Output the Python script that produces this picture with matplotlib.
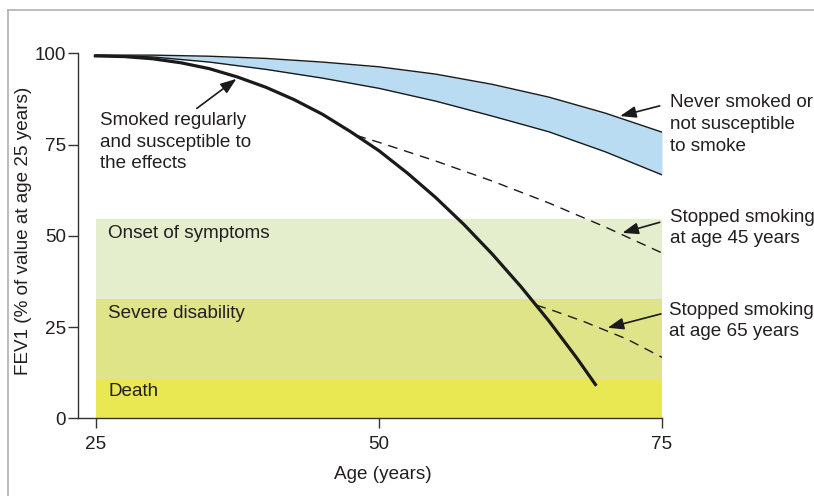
import matplotlib
matplotlib.use("Agg")
import matplotlib.pyplot as plt
from matplotlib.lines import Line2D

plt.rcParams['font.family'] = ['Liberation Sans', 'DejaVu Sans']

# ---- data ----
never_age = [25, 30, 35, 40, 45, 50, 55, 60, 65, 70, 75]
never_upper = [99.5, 99.5, 99.2, 98.6, 97.6, 96.3, 94.3, 91.5, 88.0, 83.6, 78.4]
never_lower = [99.5, 99.0, 97.6, 95.6, 93.2, 90.4, 86.9, 82.8, 78.5, 73.0, 66.7]

smoker_age = [24.8, 27.5, 30, 32.5, 35, 37.5, 40, 42.5, 45, 47.5, 50, 52.5, 55,
              57.5, 60, 62.5, 65, 67.5, 69.2]
smoker_val = [99.3, 99.1, 98.5, 97.4, 95.8, 93.5, 90.7, 87.3, 83.3, 78.5, 73.3,
              67.2, 60.5, 53.1, 45.0, 36.2, 26.7, 16.4, 8.9]

stop45_age = [48, 50, 55, 60, 65, 70, 75]
stop45_val = [77.5, 75.6, 70.5, 65.0, 59.0, 52.4, 45.3]

stop65_age = [63.9, 65.4, 68.1, 71.9, 75]
stop65_val = [31.0, 29.5, 26.5, 21.7, 16.7]

band_labels = ["Death", "Severe disability", "Onset of symptoms"]
band_lower = [0, 10.8, 32.7]
band_upper = [10.8, 32.7, 54.6]
band_colors = ["#e9e852", "#dfe489", "#e4edcc"]
band_x = [25, 75]

x_ticks = [25, 50, 75]
y_ticks = [0, 25, 50, 75, 100]

TXT = "#231f20"
FS = 13.6

W, H = 814, 496
fig = plt.figure(figsize=(W / 100, H / 100), dpi=100)
ax = fig.add_axes([77.7 / W, 1 - 418.3 / H, (662 - 77.7) / W, (418.3 - 53.3) / H])

# bands
for lo, hi, c in zip(band_lower, band_upper, band_colors):
    ax.fill_between(band_x, [lo, lo], [hi, hi], color=c, lw=0, zorder=1)

# never smoked band
ax.fill_between(never_age, never_lower, never_upper, color="#b9dcf3", lw=0, zorder=2)
ax.plot(never_age, never_upper, color="#1a1a1a", lw=1.0, zorder=3)
ax.plot(never_age, never_lower, color="#1a1a1a", lw=1.0, zorder=3)

# stopped smoking dashed lines
ax.plot(stop45_age, stop45_val, color="#1a1a1a", lw=1.0, dashes=(7, 5), zorder=3)
ax.plot(stop65_age, stop65_val, color="#1a1a1a", lw=1.0, dashes=(7, 5), zorder=3)

# smoker curve
ax.plot(smoker_age, smoker_val, color="#1a1a1a", lw=2.3, zorder=4,
        solid_capstyle="butt", solid_joinstyle="round")

ax.set_xlim(23.38, 75)
ax.set_ylim(0, 100)
ax.set_xticks(x_ticks)
ax.set_yticks(y_ticks)
for s in ["top", "right"]:
    ax.spines[s].set_visible(False)
for s in ["left", "bottom"]:
    ax.spines[s].set_color("#333333")
    ax.spines[s].set_linewidth(1.0)
ax.tick_params(axis="both", direction="out", length=7.5, width=1.0,
               color="#333333", labelsize=FS, labelcolor=TXT)
ax.tick_params(axis="y", pad=0.8)
ax.tick_params(axis="x", pad=5.5)

ax.set_xlabel("Age (years)", fontsize=FS, color=TXT)
ax.xaxis.set_label_coords(0.5225, -0.155)
ax.xaxis.label.set_va("center")
ax.set_ylabel("FEV1 (% of value at age 25 years)", fontsize=FS, color=TXT)
ax.yaxis.set_label_coords(-0.092, 0.513)
ax.yaxis.label.set_va("center")

# text labels (figure pixel positions)
def ftext(x, y, s):
    fig.text(x / W, 1 - y / H, s, ha="left", va="center", fontsize=FS,
             color=TXT, linespacing=1.37)

ftext(100, 142, "Smoked regularly\nand susceptible to\nthe effects")
ftext(670, 124.5, "Never smoked or\nnot susceptible\nto smoke")
ftext(670, 228, "Stopped smoking\nat age 45 years")
ftext(669, 321, "Stopped smoking\nat age 65 years")
ftext(107.5, 234, band_labels[2])
ftext(107.5, 314, band_labels[1])
ftext(109, 391, band_labels[0])

# arrows
arrow_kw = dict(arrowstyle="-|>,head_length=0.6,head_width=0.22",
                mutation_scale=16, lw=1.2, color="#1a1a1a",
                shrinkA=0, shrinkB=0)
arrows = [((37.4, 93.0), (33.9, 84.9)),
          ((71.3, 82.8), (74.8, 85.6)),
          ((71.5, 50.8), (74.8, 53.7)),
          ((70.2, 24.8), (74.9, 28.6))]
for tip, tail in arrows:
    ax.annotate("", xy=tip, xytext=tail, arrowprops=arrow_kw, zorder=6,
                annotation_clip=False)

# frame lines
fig.add_artist(Line2D([7.5 / W, 7.5 / W], [0, 1 - 10 / H], color="#b0b0b0", lw=1.2))
fig.add_artist(Line2D([7.5 / W, 1], [1 - 10 / H, 1 - 10 / H], color="#b0b0b0", lw=1.2))

fig.savefig("out.png", dpi=100)
